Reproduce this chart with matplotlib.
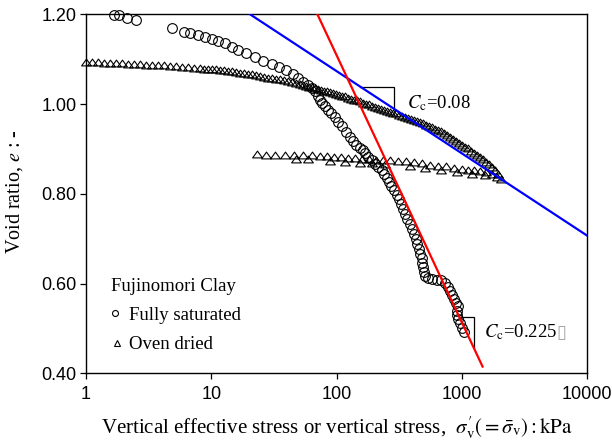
import numpy as np
import matplotlib
matplotlib.use("Agg")
import matplotlib.pyplot as plt
from matplotlib.path import Path
from matplotlib.ticker import NullLocator

plt.rcParams['font.family'] = ['Liberation Serif', 'DejaVu Serif']
plt.rcParams['mathtext.fontset'] = 'stix'

# Fully saturated sample: vertical effective stress (kPa) and void ratio
sat_stress = [1.68, 1.85, 2.11, 2.51, 4.83, 6.09, 6.76, 7.88, 8.91,
              10.1, 11.4, 12.9, 14.6, 16.4, 18.9, 22.3, 26.0, 30.3, 34.9, 39.5,
              44.6, 49.5, 54.2, 59.4, 63.6, 67.2, 71.0, 73.7, 77.2, 80.8,
              85.4, 90.2, 97.1, 103, 110, 120, 128, 135, 143, 154,
              163, 169, 179, 191, 203, 215, 229, 239, 251, 262,
              274, 287, 302, 315, 327, 339, 352, 368, 385, 400,
              415, 430, 442, 455, 467, 478, 485, 492, 500, 508,
              536, 577, 629, 681, 733, 779, 811, 834, 865, 897,
              931, 914, 914, 936, 966, 1000, 1039]
sat_e = [1.198, 1.198, 1.191, 1.187, 1.169, 1.161, 1.158, 1.154, 1.150,
         1.144, 1.140, 1.135, 1.128, 1.120, 1.114, 1.104, 1.097, 1.089, 1.083, 1.076,
         1.067, 1.057, 1.050, 1.042, 1.035, 1.028, 1.018, 1.009, 1.002, 0.996,
         0.987, 0.979, 0.972, 0.961, 0.950, 0.938, 0.927, 0.918, 0.909, 0.901,
         0.898, 0.890, 0.882, 0.875, 0.866, 0.860, 0.853, 0.844, 0.835, 0.826,
         0.817, 0.808, 0.798, 0.788, 0.777, 0.766, 0.755, 0.744, 0.733, 0.722,
         0.710, 0.699, 0.688, 0.677, 0.666, 0.656, 0.646, 0.636, 0.626, 0.617,
         0.612, 0.611, 0.609, 0.607, 0.601, 0.593, 0.583, 0.574, 0.566, 0.557,
         0.549, 0.539, 0.530, 0.520, 0.511, 0.502, 0.493]

# Oven dried sample, loading branch: vertical stress (kPa) and void ratio
dry_load_stress = [1.00, 1.117, 1.247, 1.392, 1.554, 1.735, 1.938, 2.164, 2.416, 2.697,
                   3.012, 3.363, 3.755, 4.193, 4.681, 5.227, 5.835, 6.516, 7.275, 8.124,
                   8.745, 9.412, 10.13, 10.90, 11.73, 12.63, 13.59, 14.63, 15.74, 16.94,
                   18.24, 19.63, 21.13, 22.74, 24.47, 26.34, 28.35, 30.51, 32.84, 35.34,
                   38.04, 40.94, 44.06, 47.42, 51.04,
                   53.93, 57.0, 60.22, 63.64, 67.24, 71.06, 75.08, 79.33, 83.83, 88.58,
                   93.61, 98.9, 104.5, 110.4, 116.7, 123.3, 130.3, 137.7, 145.5, 153.8,
                   162.4, 171.6, 181.4, 191.7, 202.6, 214.0, 226.1, 238.9, 252.5, 266.8,
                   281.9, 297.9, 314.8, 332.6, 351.5, 371.4, 392.5, 414.7, 438.2, 463.0,
                   489.3, 517.0, 546.3, 577.3, 610.0, 644.6, 681.1, 719.6, 760.4, 803.5,
                   849.1, 897.2, 948.1, 1002, 1058, 1119, 1182, 1249, 1320, 1395,
                   1474, 1557, 1646, 1739, 1838, 1942, 2051]
dry_load_e = [1.093, 1.093, 1.093, 1.092, 1.092, 1.091, 1.091, 1.090, 1.089, 1.089,
              1.088, 1.087, 1.087, 1.086, 1.085, 1.084, 1.083, 1.082, 1.081, 1.080,
              1.079, 1.079, 1.078, 1.077, 1.076, 1.075, 1.074, 1.073, 1.071, 1.070,
              1.069, 1.067, 1.066, 1.064, 1.063, 1.061, 1.059, 1.058, 1.056, 1.055,
              1.053, 1.051, 1.049, 1.047, 1.045,
              1.043, 1.041, 1.039, 1.037, 1.036, 1.034, 1.032, 1.030, 1.028, 1.026,
              1.024, 1.023, 1.021, 1.019, 1.017, 1.014, 1.012, 1.010, 1.008, 1.006,
              1.003, 1.001, 0.999, 0.996, 0.994, 0.992, 0.989, 0.987, 0.985, 0.983,
              0.981, 0.979, 0.976, 0.974, 0.972, 0.969, 0.967, 0.965, 0.962, 0.960,
              0.957, 0.954, 0.951, 0.948, 0.945, 0.942, 0.939, 0.935, 0.931, 0.927,
              0.922, 0.918, 0.913, 0.909, 0.905, 0.901, 0.896, 0.891, 0.887, 0.882,
              0.877, 0.871, 0.866, 0.860, 0.853, 0.845, 0.834]

# Oven dried sample, unloading branch
dry_unload_stress = [23.16, 27.33, 32.24, 38.74, 45.71, 53.93, 63.64, 73.72, 83.83, 95.33,
                     108.4, 123.3, 140.2, 159.5, 181.4, 206.3, 234.6, 266.8, 309.0, 358.0,
                     414.7, 480.3, 556.5, 644.6, 746.5, 864.9, 1002, 1119, 1249, 1395,
                     1557, 1739, 1906]
dry_unload_e = [0.888, 0.887, 0.887, 0.887, 0.887, 0.886, 0.886, 0.885, 0.884, 0.882,
                0.881, 0.880, 0.879, 0.878, 0.877, 0.876, 0.876, 0.875, 0.872, 0.872,
                0.870, 0.868, 0.865, 0.863, 0.861, 0.858, 0.856, 0.854, 0.853, 0.850,
                0.848, 0.844, 0.837]

# Oven dried sample, reloading branch
dry_reload_stress = [47.42, 59.13, 88.58, 116.7, 153.8, 191.7, 243.4, 385.3, 507.6,
                     681.1, 913.9, 1204, 1529]
dry_reload_e = [0.878, 0.877, 0.874, 0.871, 0.869, 0.868, 0.866, 0.862, 0.857,
                0.854, 0.848, 0.845, 0.842]

# Compression lines, given by their end points (stress in kPa, void ratio)
line_dry_stress = [20.4, 10000]
line_dry_e = [1.20, 0.707]
line_sat_stress = [70.4, 1466]
line_sat_e = [1.20, 0.415]

# Slope brackets: corner stress and void ratio of the horizontal leg
bracket_dry = (288.7, 1.0387)
bracket_sat = (1249, 0.5255)

cc_text = ["0.08", "0.225"]

x_ticks = [1, 10, 100, 1000, 10000]
y_ticks = [0.40, 0.60, 0.80, 1.00, 1.20]


def e_on_line(s, ls, le):
    t = (np.log10(s) - np.log10(ls[0])) / (np.log10(ls[1]) - np.log10(ls[0]))
    return le[0] + t * (le[1] - le[0])


def s_on_line(e, ls, le):
    t = (e - le[0]) / (le[1] - le[0])
    return 10 ** (np.log10(ls[0]) + t * (np.log10(ls[1]) - np.log10(ls[0])))


def draw_bracket(ax, corner, ls, le):
    s_c, e_top = corner
    s0 = s_on_line(e_top, ls, le)
    e1 = e_on_line(s_c, ls, le)
    ax.plot([s0, s_c, s_c], [e_top, e_top, e1], color='black', lw=0.9,
            solid_joinstyle='miter', zorder=3)


# flattened open triangle used for the oven dried points
tri = Path([(0, 0.7), (-1, -0.7), (1, -0.7), (0, 0.7)], closed=True)

fig = plt.figure(figsize=(6.12, 4.41), dpi=100)
ax = fig.add_axes([86 / 612, 1 - 373.3 / 441, 501 / 612, 359 / 441])

mk = dict(linestyle='none', markerfacecolor='none', markeredgecolor='black',
          markeredgewidth=0.8, clip_on=False)
ax.plot(dry_load_stress, dry_load_e, marker=tri, markersize=7.0, zorder=2, **mk)
ax.plot(dry_unload_stress, dry_unload_e, marker=tri, markersize=7.0, zorder=2, **mk)
ax.plot(dry_reload_stress, dry_reload_e, marker=tri, markersize=7.0, zorder=2, **mk)
ax.plot(sat_stress, sat_e, marker='o', markersize=7.0, zorder=2.5, **mk)

ax.plot(line_dry_stress, line_dry_e, color='#0000ff', lw=1.6, zorder=4)
ax.plot(line_sat_stress, line_sat_e, color='#ff0000', lw=1.6, zorder=4)

draw_bracket(ax, bracket_dry, line_dry_stress, line_dry_e)
draw_bracket(ax, bracket_sat, line_sat_stress, line_sat_e)

ax.text(366.7, 0.9905, r"$C_{\rm c}$=" + cc_text[0], fontsize=13.5, va='baseline')
ax.text(1501, 0.4802, r"$C_{\rm c}$=" + cc_text[1], fontsize=13.5, va='baseline')
ax.text(5650, 0.4795, "\u25af", fontsize=13, color='#a8a8a8', va='baseline',
        family='DejaVu Sans')

ax.set_xscale('log')
ax.set_xlim(1, 10000)
ax.set_ylim(0.40, 1.20)
ax.set_xticks(x_ticks)
ax.set_xticklabels([str(v) for v in x_ticks])
ax.xaxis.set_minor_locator(NullLocator())
ax.set_yticks(y_ticks)
ax.set_yticklabels(["%.2f" % v for v in y_ticks])
ax.tick_params(direction='out', length=4.5, width=0.9, labelsize=13)
ax.tick_params(axis='y', pad=2.5)
ax.tick_params(axis='x', pad=4.5)
for lab in ax.get_xticklabels() + ax.get_yticklabels():
    lab.set_fontfamily('Liberation Sans')
for sp in ax.spines.values():
    sp.set_linewidth(1.0)

# legend written inside the axes
ax.text(0.0499, 0.2292, "Fujinomori Clay", transform=ax.transAxes, fontsize=13.5,
        va='baseline')
ax.plot([0.0579], [0.167], marker='o', markersize=4.3, transform=ax.transAxes, **mk)
ax.text(0.0852, 0.1485, "Fully saturated", transform=ax.transAxes, fontsize=13.5,
        va='baseline')
ax.plot([0.0612], [0.0836], marker='^', markersize=5.0, transform=ax.transAxes, **mk)
ax.text(0.0852, 0.0677, "Oven dried", transform=ax.transAxes, fontsize=13.5,
        va='baseline')

fig.text(336.5 / 612, 1 - 433 / 441,
         r"Vertical effective stress or vertical stress,  "
         r"$\sigma_{\rm v}^{\prime}(=\bar{\sigma}_{\rm v}):{\rm kPa}$",
         fontsize=15, ha='center', va='baseline')
fig.text(15 / 612, 1 - 192 / 441, r"Void ratio, $e$ : -", fontsize=14.5,
         rotation=90, ha='center', va='center')

fig.savefig("out.png", dpi=100)
